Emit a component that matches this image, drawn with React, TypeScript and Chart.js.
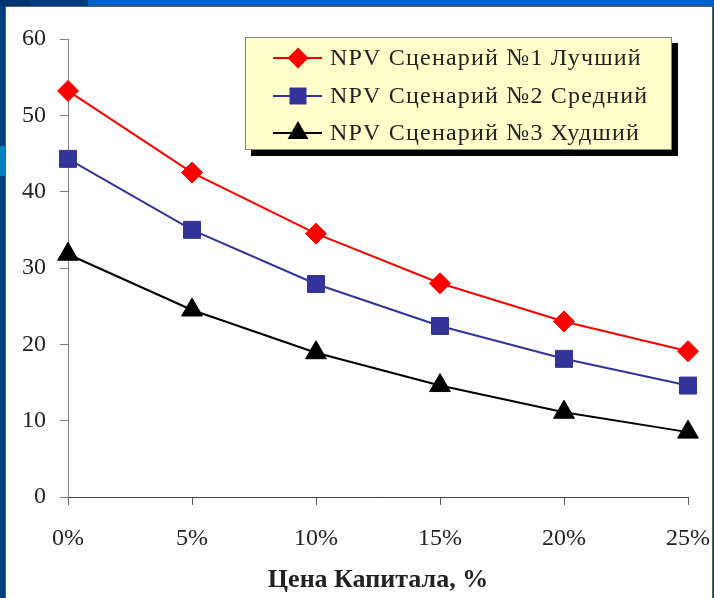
import React, { useEffect, useRef } from "react";
import { Chart, registerables } from "chart.js";

Chart.register(...registerables);

const categories = ["0%", "5%", "10%", "15%", "20%", "25%"];
const seriesNames = ["NPV Сценарий №1 Лучший", "NPV Сценарий №2 Средний", "NPV Сценарий №3 Худший"];
const best = [53.2, 42.5, 34.5, 28.0, 23.0, 19.1];
const middle = [44.3, 35.0, 27.9, 22.4, 18.1, 14.6];
const worst = [31.8, 24.5, 18.9, 14.6, 11.1, 8.5];
const yTicks = [0, 10, 20, 30, 40, 50, 60];
const xTitle = "Цена Капитала, %";

const colors = ["#ff0000", "#333399", "#000000"];
const styles = ["rectRot", "rect", "triangle"];
const radii = [10.5, 12, 12];

const SERIF = "'Liberation Serif', 'Times New Roman', serif";

function drawMarker(ctx: CanvasRenderingContext2D, style: string, x: number, y: number, r: number) {
  ctx.beginPath();
  if (style === "rectRot") {
    ctx.moveTo(x - r, y);
    ctx.lineTo(x, y - r);
    ctx.lineTo(x + r, y);
    ctx.lineTo(x, y + r);
  } else if (style === "rect") {
    const s = Math.SQRT1_2 * r;
    ctx.rect(x - s, y - s, 2 * s, 2 * s);
  } else {
    const t = (2 * Math.PI) / 3;
    let a = 0;
    ctx.moveTo(x + Math.sin(a) * r, y - Math.cos(a) * r);
    a += t;
    ctx.lineTo(x + Math.sin(a) * r, y - Math.cos(a) * r);
    a += t;
    ctx.lineTo(x + Math.sin(a) * r, y - Math.cos(a) * r);
  }
  ctx.closePath();
  ctx.fill();
}

const backgroundPlugin = {
  id: "bgPanel",
  beforeDraw(chart: any) {
    const { ctx, width, height } = chart;
    ctx.save();
    ctx.fillStyle = "#003c80";
    ctx.fillRect(0, 0, width, height);
    ctx.fillStyle = "#003470";
    ctx.fillRect(0, 0, 30, 7);
    ctx.fillStyle = "#0062c8";
    ctx.fillRect(88, 0, width - 88, 7);
    ctx.fillStyle = "#0080c0";
    ctx.fillRect(0, 146, 6, 30);
    ctx.fillStyle = "#ffffff";
    ctx.fillRect(6, 7, 706, height - 7);
    ctx.strokeStyle = "#606060";
    ctx.lineWidth = 1;
    ctx.strokeRect(5.5, 6.5, 707, height);
    ctx.restore();
  },
};

const legendPlugin = {
  id: "customLegend",
  afterDraw(chart: any) {
    const { ctx } = chart;
    const x0 = 245, y0 = 37, w = 427, h = 113;
    ctx.save();
    ctx.fillStyle = "#000000";
    ctx.fillRect(x0 + 6, y0 + 6, w, h);
    ctx.fillStyle = "#ffffcc";
    ctx.fillRect(x0, y0, w, h);
    ctx.strokeStyle = "#808080";
    ctx.lineWidth = 1;
    ctx.strokeRect(x0 + 0.5, y0 + 0.5, w - 1, h - 1);
    const rows = [58, 96, 133];
    seriesNames.forEach((name, i) => {
      const y = rows[i];
      ctx.strokeStyle = colors[i];
      ctx.lineWidth = 2;
      ctx.beginPath();
      ctx.moveTo(273, y);
      ctx.lineTo(322, y);
      ctx.stroke();
      ctx.fillStyle = colors[i];
      drawMarker(ctx, styles[i], 298, y, radii[i]);
      ctx.fillStyle = "#222222";
      ctx.font = "24px " + SERIF;
      (ctx as any).letterSpacing = "1.2px";
      ctx.textBaseline = "middle";
      ctx.textAlign = "left";
      ctx.fillText(name, 330, y + 1);
    });
    ctx.restore();
  },
};

export default function App() {
  const ref = useRef<HTMLCanvasElement | null>(null);
  useEffect(() => {
    if (!ref.current) return;
    const datasets = [best, middle, worst].map((d, i) => ({
      label: seriesNames[i],
      data: d,
      borderColor: colors[i],
      backgroundColor: colors[i],
      borderWidth: 2,
      pointStyle: styles[i] as any,
      pointRadius: radii[i],
      pointHoverRadius: radii[i],
      pointBorderWidth: 1,
      pointBorderColor: colors[i],
      pointBackgroundColor: colors[i],
      tension: 0,
    }));
    const chart = new Chart(ref.current, {
      type: "line",
      data: { labels: categories, datasets },
      options: {
        responsive: false,
        animation: false,
        layout: { padding: { left: 8, right: 26, top: 39, bottom: 0 } },
        plugins: { legend: { display: false }, tooltip: { enabled: false } },
        scales: {
          x: {
            type: "category",
            offset: false,
            grid: {
              drawOnChartArea: false,
              drawTicks: true,
              tickLength: 8,
              tickColor: "#606060",
            },
            border: { color: "#404040", width: 1 },
            ticks: {
              color: "#222222",
              font: { family: SERIF, size: 24 },
              padding: 19,
              maxRotation: 0,
            },
            title: {
              display: true,
              text: xTitle,
              color: "#222222",
              font: { family: SERIF, size: 26, weight: "bold" },
              padding: { top: 0, bottom: 2 },
            },
            afterFit: (s: any) => {
              s.height = 101;
              s.paddingLeft = 0;
              s.paddingRight = 0;
            },
          },
          y: {
            min: 0,
            max: 60,
            afterBuildTicks: (s: any) => {
              s.ticks = yTicks.map((v) => ({ value: v }));
            },
            grid: {
              drawOnChartArea: false,
              drawTicks: true,
              tickLength: 8,
              tickColor: "#808080",
            },
            border: { color: "#808080", width: 1 },
            ticks: {
              color: "#222222",
              font: { family: SERIF, size: 24 },
              padding: 14,
            },
            afterFit: (s: any) => {
              s.width = 60;
              s.paddingTop = 0;
              s.paddingBottom = 0;
            },
          },
        },
      },
      plugins: [backgroundPlugin, legendPlugin],
    });
    return () => chart.destroy();
  }, []);
  return (
    <div style={{ position: "fixed", left: 0, top: 0, width: 714, height: 598 }}>
      <canvas ref={ref} width={714} height={598} style={{ display: "block", width: 714, height: 598 }} />
    </div>
  );
}
